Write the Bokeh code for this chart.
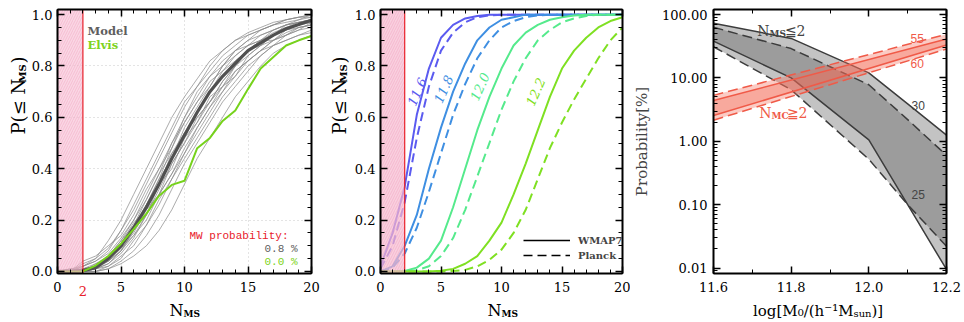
import math
from bokeh.plotting import figure
from bokeh.layouts import row, column
from bokeh.models import (Range1d, FixedTicker, PrintfTickFormatter, CustomJSTickFormatter,
                          LinearAxis, LogAxis, Label, Legend, LegendItem)
from bokeh.embed import file_html
from bokeh.resources import INLINE

FONT = "DejaVu Serif"
NAN = float("nan")

# ------------------------------------------------------------------ data
n_ms = list(range(21))
mw_n_ms = 2  # observed MW satellites (shaded region N <= 2)

model_cdf = [0, 0, 0.003, 0.015, 0.05, 0.10, 0.17, 0.25, 0.34, 0.44, 0.53, 0.62,
             0.70, 0.76, 0.81, 0.86, 0.89, 0.92, 0.945, 0.962, 0.978]
elvis_cdf = [0, 0, 0, 0.023, 0.06, 0.108, 0.165, 0.225, 0.295, 0.337, 0.353, 0.48,
             0.52, 0.586, 0.627, 0.71, 0.79, 0.835, 0.88, 0.90, 0.917]

model_realisations = [
    [0, 0, 0.02, 0.05, 0.12, 0.2, 0.3, 0.4, 0.5, 0.6, 0.68, 0.75, 0.82, 0.86, 0.9, 0.93, 0.95, 0.97, 0.98, 0.99, 1.0],
    [0, 0, 0, 0, 0.01, 0.03, 0.06, 0.1, 0.16, 0.24, 0.34, 0.44, 0.52, 0.6, 0.68, 0.74, 0.8, 0.85, 0.88, 0.9, 0.92],
    [0, 0, 0, 0.02, 0.06, 0.12, 0.2, 0.28, 0.38, 0.5, 0.58, 0.66, 0.74, 0.78, 0.84, 0.88, 0.9, 0.92, 0.94, 0.96, 0.97],
    [0, 0, 0, 0.01, 0.04, 0.08, 0.14, 0.2, 0.3, 0.38, 0.46, 0.56, 0.64, 0.72, 0.78, 0.82, 0.86, 0.9, 0.93, 0.95, 0.96],
    [0, 0.01, 0.02, 0.04, 0.08, 0.16, 0.24, 0.34, 0.44, 0.54, 0.64, 0.72, 0.78, 0.84, 0.88, 0.92, 0.94, 0.96, 0.97, 0.98, 0.99],
    [0, 0, 0, 0, 0.02, 0.06, 0.1, 0.18, 0.26, 0.36, 0.44, 0.52, 0.6, 0.68, 0.74, 0.8, 0.84, 0.88, 0.92, 0.94, 0.95],
    [0, 0, 0.01, 0.02, 0.06, 0.1, 0.18, 0.26, 0.36, 0.44, 0.56, 0.64, 0.72, 0.8, 0.84, 0.88, 0.9, 0.93, 0.95, 0.97, 0.98],
    [0, 0, 0, 0.03, 0.05, 0.11, 0.19, 0.24, 0.3, 0.42, 0.5, 0.58, 0.68, 0.72, 0.76, 0.84, 0.88, 0.9, 0.92, 0.94, 0.97],
    [0, 0, 0.04, 0.06, 0.1, 0.14, 0.22, 0.32, 0.4, 0.48, 0.6, 0.7, 0.76, 0.8, 0.86, 0.9, 0.94, 0.96, 0.98, 0.99, 0.99],
    [0, 0, 0, 0, 0.01, 0.04, 0.08, 0.14, 0.22, 0.32, 0.42, 0.5, 0.58, 0.66, 0.72, 0.78, 0.84, 0.88, 0.9, 0.92, 0.94],
    [0, 0, 0.01, 0.01, 0.03, 0.08, 0.16, 0.26, 0.34, 0.46, 0.54, 0.62, 0.7, 0.76, 0.82, 0.86, 0.88, 0.92, 0.96, 0.97, 0.98],
    [0, 0, 0.02, 0.04, 0.07, 0.13, 0.2, 0.3, 0.4, 0.5, 0.6, 0.68, 0.76, 0.82, 0.86, 0.9, 0.92, 0.94, 0.96, 0.98, 1.0],
    [0, 0, 0, 0.01, 0.03, 0.07, 0.13, 0.22, 0.3, 0.38, 0.48, 0.56, 0.64, 0.7, 0.78, 0.82, 0.86, 0.9, 0.94, 0.96, 0.97],
    [0, 0, 0.01, 0.03, 0.06, 0.12, 0.18, 0.28, 0.38, 0.46, 0.52, 0.62, 0.7, 0.78, 0.82, 0.86, 0.9, 0.94, 0.96, 0.97, 0.98],
    [0, 0, 0, 0.02, 0.04, 0.09, 0.15, 0.24, 0.34, 0.44, 0.54, 0.6, 0.66, 0.74, 0.8, 0.86, 0.9, 0.92, 0.94, 0.95, 0.96],
    [0, 0.01, 0.01, 0.02, 0.05, 0.1, 0.17, 0.26, 0.36, 0.48, 0.58, 0.66, 0.72, 0.8, 0.86, 0.88, 0.92, 0.94, 0.96, 0.97, 0.98],
    [0, 0, 0, 0.01, 0.02, 0.05, 0.12, 0.18, 0.28, 0.36, 0.46, 0.54, 0.62, 0.7, 0.76, 0.82, 0.86, 0.88, 0.9, 0.92, 0.93],
    [0, 0, 0.03, 0.05, 0.09, 0.16, 0.26, 0.36, 0.46, 0.56, 0.66, 0.72, 0.8, 0.86, 0.9, 0.92, 0.94, 0.96, 0.98, 0.99, 1.0],
    [0, 0, 0, 0.02, 0.05, 0.09, 0.14, 0.22, 0.32, 0.42, 0.5, 0.6, 0.66, 0.74, 0.8, 0.84, 0.88, 0.92, 0.95, 0.96, 0.98],
    [0, 0, 0.01, 0.02, 0.04, 0.08, 0.16, 0.22, 0.34, 0.4, 0.52, 0.58, 0.66, 0.72, 0.8, 0.86, 0.9, 0.9, 0.92, 0.95, 0.96],
]

# panel 2: cumulative distributions for four halo masses, WMAP7 (solid) / Planck (dashed)
mass_labels = ["11.6", "11.8", "12.0", "12.2"]
mass_colors = ["#5b5bf0", "#3f8fe2", "#55ea8c", "#7fe022"]
cdf_wmap7 = [
    [0.02, 0.15, 0.33, 0.61, 0.79, 0.91, 0.96, 0.985, 0.995, 1, 1, 1, 1, 1, 1, 1, 1, 1, 1, 1, 1],
    [0, 0.02, 0.10, 0.22, 0.40, 0.56, 0.70, 0.81, 0.90, 0.95, 0.98, 0.99, 1, 1, 1, 1, 1, 1, 1, 1, 1],
    [0, 0, 0.002, 0.015, 0.05, 0.12, 0.25, 0.40, 0.55, 0.68, 0.79, 0.88, 0.93, 0.96, 0.98, 0.99, 0.997, 1, 1, 1, 1],
    [0, 0, 0, 0, 0, 0.003, 0.01, 0.03, 0.06, 0.12, 0.19, 0.30, 0.42, 0.55, 0.68, 0.79, 0.86, 0.91, 0.95, 0.975, 0.99],
]
cdf_planck = [
    [0.01, 0.10, 0.27, 0.52, 0.72, 0.86, 0.93, 0.97, 0.99, 0.997, 1, 1, 1, 1, 1, 1, 1, 1, 1, 1, 1],
    [0, 0.015, 0.07, 0.17, 0.31, 0.46, 0.61, 0.73, 0.83, 0.90, 0.95, 0.975, 0.99, 0.997, 1, 1, 1, 1, 1, 1, 1],
    [0, 0, 0, 0.005, 0.02, 0.06, 0.13, 0.24, 0.37, 0.50, 0.63, 0.74, 0.83, 0.90, 0.94, 0.97, 0.985, 0.995, 1, 1, 1],
    [0, 0, 0, 0, 0, 0, 0.002, 0.006, 0.02, 0.045, 0.085, 0.15, 0.24, 0.36, 0.48, 0.58, 0.67, 0.75, 0.83, 0.90, 0.95],
]
label_pos_x = [3.0, 5.2, 8.2, 12.8]
label_pos_y = [0.70, 0.71, 0.72, 0.70]

# panel 3: probability [%] vs log halo mass
log_mass = [11.6, 11.8, 12.0, 12.1, 12.2]
nms_wmap7_30 = [73, 42, 12, 3.9, 1.25]
nms_planck_30 = [63, 29, 7.8, 2.2, 0.6]
nms_wmap7_25 = [38, 10, 1.05, 0.1, 0.0095]
nms_planck_25 = [31, 6.5, 0.52, 0.1, 0.022]

log_mass_mc = [11.6, 12.2]
nmc_wmap7_55 = [4.4, 41]
nmc_planck_55 = [5.3, 49]
nmc_wmap7_60 = [2.55, 33]
nmc_planck_60 = [2.15, 28.5]

# ticks
cdf_xticks = [0, 5, 10, 15, 20]
cdf_xminor = list(range(21))
cdf_yticks = [0.0, 0.2, 0.4, 0.6, 0.8, 1.0]
cdf_yminor = [i * 0.05 for i in range(21)]
mass_xticks = [11.6, 11.8, 12.0, 12.2]
mass_xminor = [11.6, 11.7, 11.8, 11.9, 12.0, 12.1, 12.2]
prob_yticks = [0.01, 0.1, 1, 10, 100]
prob_yminor = [k * 10.0 ** e for e in range(-3, 3) for k in range(1, 10)]

# ------------------------------------------------------------------ helpers
Y_CDF = (-0.008, 1.02)
Y_PROB = (0.0082, 120)
ROW_H = 298


def style_axis(ax, fmt=None, labels=True):
    ax.axis_line_width = 2
    ax.axis_line_color = "black"
    ax.major_tick_in = 7
    ax.major_tick_out = 0
    ax.minor_tick_in = 4
    ax.minor_tick_out = 0
    ax.major_tick_line_width = 1.5
    ax.minor_tick_line_width = 1
    ax.major_label_text_font = FONT
    ax.major_label_text_font_size = "13px"
    ax.major_label_text_color = "black"
    if fmt is not None:
        ax.formatter = fmt
    if not labels:
        ax.formatter = CustomJSTickFormatter(code="return ''")
        ax.major_label_text_font_size = "0px"
        ax.major_label_standoff = 0


def make_fig(width, left, right, xr, yr, xt, xm, yt, ym, xfmt, yfmt, ylog=False):
    p = figure(width=width, height=ROW_H, x_range=Range1d(*xr), y_range=Range1d(*yr),
               y_axis_type="log" if ylog else "linear",
               min_border_left=left, min_border_right=right, min_border_top=9,
               min_border_bottom=25, output_backend="svg", toolbar_location=None, tools="")
    p.outline_line_color = "black"
    p.outline_line_width = 1
    p.background_fill_color = "white"
    p.border_fill_color = "white"
    p.xaxis.ticker = FixedTicker(ticks=xt, minor_ticks=xm)
    p.yaxis.ticker = FixedTicker(ticks=yt, minor_ticks=ym)
    style_axis(p.xaxis[0], PrintfTickFormatter(format=xfmt))
    style_axis(p.yaxis[0], PrintfTickFormatter(format=yfmt))
    p.xaxis.major_label_standoff = 8
    p.yaxis.major_label_standoff = 5
    top = LinearAxis(ticker=FixedTicker(ticks=xt, minor_ticks=xm))
    style_axis(top, labels=False)
    p.add_layout(top, "above")
    right_ax = (LogAxis if ylog else LinearAxis)(ticker=FixedTicker(ticks=yt, minor_ticks=ym))
    style_axis(right_ax, labels=False)
    p.add_layout(right_ax, "right")
    p.xgrid.grid_line_color = None
    p.ygrid.grid_line_color = None
    return p


def strip(width, height):
    f = figure(width=width, height=height, x_range=Range1d(0, width), y_range=Range1d(0, height),
               min_border=0, x_axis_type=None, y_axis_type=None, output_backend="svg",
               toolbar_location=None, tools="")
    f.outline_line_color = None
    f.background_fill_color = "white"
    f.border_fill_color = "white"
    return f


def lab(p, text, x, y, xu="screen", yu="screen", size="13px", color="black", font=FONT,
        style="normal", align="left", baseline="alphabetic", angle=0.0):
    p.add_layout(Label(x=x, y=y, x_units=xu, y_units=yu, text=text, text_font=font,
                       text_font_size=size, text_color=color, text_font_style=style,
                       text_align=align, text_baseline=baseline, angle=angle))


def y_label_nms(f, bx):
    # rotated "P(<= N_MS)", reading upwards, glyphs hanging to the right of bx
    lab(f, "P(\u2264 N", bx, ROW_H - 159, size="18px", baseline="top", angle=math.pi / 2)
    lab(f, "MS", bx + 9, ROW_H - 107, size="10px", style="bold", baseline="top",
        angle=math.pi / 2)
    lab(f, ")", bx, ROW_H - 88, size="18px", baseline="top", angle=math.pi / 2)


def pink_region(p, alpha):
    p.quad(left=[0], right=[mw_n_ms], bottom=[Y_CDF[0]], top=[Y_CDF[1]],
           fill_color="#f7bcd2", fill_alpha=alpha, line_color=None,
           hatch_pattern="/", hatch_color="#ee7aa4", hatch_alpha=0.4, hatch_scale=5,
           hatch_weight=0.7)
    p.segment(x0=[mw_n_ms], x1=[mw_n_ms], y0=[Y_CDF[0]], y1=[Y_CDF[1]],
              line_color="#e8202a", line_width=1.2)


# ------------------------------------------------------------------ panel 1
p1 = make_fig(293, 27, 10, (0, 20), Y_CDF, cdf_xticks, cdf_xminor, cdf_yticks, cdf_yminor,
              "%d", "%.1f")
p1.xgrid.grid_line_color = "#c8c8c8"
p1.ygrid.grid_line_color = "#c8c8c8"
p1.xgrid.grid_line_dash = "1 3"
p1.ygrid.grid_line_dash = "1 3"
p1.xgrid.ticker = FixedTicker(ticks=[5, 10, 15])
p1.ygrid.ticker = FixedTicker(ticks=[0.2, 0.4, 0.6, 0.8])

p1.multi_line(xs=[n_ms] * len(model_realisations), ys=model_realisations,
              line_color="#8a8a8a", line_width=0.8, line_alpha=0.9)
p1.line(n_ms, model_cdf, line_color="#505050", line_width=3.2)
p1.line(n_ms, elvis_cdf, line_color="#76d21c", line_width=2)
pink_region(p1, 0.6)

# red tick label at the observed value, drawn by an extra axis
red_ax = LinearAxis(ticker=FixedTicker(ticks=[mw_n_ms], minor_ticks=[]),
                    formatter=PrintfTickFormatter(format="%d"))
red_ax.axis_line_color = None
red_ax.major_tick_line_color = None
red_ax.minor_tick_line_color = None
red_ax.major_label_text_font = FONT
red_ax.major_label_text_font_size = "13px"
red_ax.major_label_text_color = "#e8202a"
red_ax.major_label_standoff = -15
p1.add_layout(red_ax, "below")

lab(p1, "Model", 30, 243, size="11.5px", style="bold", color="#5e5e5e")
lab(p1, "Elvis", 30, 229, size="11.5px", style="bold", color="#7ed321")
lab(p1, "MW probability:", 132, 38, size="11px", font="Liberation Mono", color="#e8202a")
lab(p1, "0.8 %", 240, 25, size="11px", font="Liberation Mono", color="#5e5e5e", align="right")
lab(p1, "0.0 %", 240, 12, size="11px", font="Liberation Mono", color="#7ed321", align="right")

# ------------------------------------------------------------------ panel 2
p2 = make_fig(280, 30, 8, (0, 20), Y_CDF, cdf_xticks, cdf_xminor, cdf_yticks, cdf_yminor,
              "%d", "%.1f")
for i in range(len(mass_labels)):
    p2.line(n_ms, cdf_wmap7[i], line_color=mass_colors[i], line_width=2)
    p2.line(n_ms, cdf_planck[i], line_color=mass_colors[i], line_width=2, line_dash="9 5")
    lab(p2, mass_labels[i], label_pos_x[i], label_pos_y[i], xu="data", yu="data",
        size="13px", style="italic", color=mass_colors[i], align="center",
        baseline="middle", angle=1.15)
pink_region(p2, 0.7)

r_solid = p2.line([NAN], [NAN], line_color="black", line_width=1.5)
r_dash = p2.line([NAN], [NAN], line_color="black", line_width=1.5, line_dash="9 5")
legend = Legend(items=[LegendItem(label="WMAP7", renderers=[r_solid]),
                       LegendItem(label="Planck", renderers=[r_dash])],
                location=(143, 11), glyph_width=47, glyph_height=14, label_height=14,
                label_standoff=8, spacing=1, padding=0, margin=0,
                label_text_font=FONT, label_text_font_style="bold",
                label_text_font_size="10px", background_fill_alpha=0, border_line_alpha=0)
p2.add_layout(legend)

# ------------------------------------------------------------------ panel 3
p3 = make_fig(334, 78, 18, (11.6, 12.2), Y_PROB, mass_xticks, mass_xminor, prob_yticks,
              prob_yminor, "%.1f", "%.2f", ylog=True)
p3.yaxis[0].major_label_standoff = 6
p3.yaxis[0].axis_label = "Probability[%]"
p3.yaxis[0].axis_label_text_font = FONT
p3.yaxis[0].axis_label_text_font_size = "15px"
p3.yaxis[0].axis_label_text_font_style = "normal"
p3.yaxis[0].axis_label_standoff = 8

p3.varea(x=log_mass, y1=nms_wmap7_25, y2=nms_wmap7_30, fill_color="#5a5a5a", fill_alpha=0.36)
p3.varea(x=log_mass, y1=nms_planck_25, y2=nms_planck_30, fill_color="#5a5a5a", fill_alpha=0.36)
for ys in (nms_wmap7_30, nms_wmap7_25):
    p3.line(log_mass, ys, line_color="#3c3c3c", line_width=1.5)
for ys in (nms_planck_30, nms_planck_25):
    p3.line(log_mass, ys, line_color="#3c3c3c", line_width=1.5, line_dash="10 5")

p3.varea(x=log_mass_mc, y1=nmc_wmap7_60, y2=nmc_wmap7_55, fill_color="#f46a55", fill_alpha=0.35)
p3.varea(x=log_mass_mc, y1=nmc_planck_60, y2=nmc_planck_55, fill_color="#f46a55", fill_alpha=0.35)
for ys in (nmc_wmap7_55, nmc_wmap7_60):
    p3.line(log_mass_mc, ys, line_color="#f05a48", line_width=1.5)
for ys in (nmc_planck_55, nmc_planck_60):
    p3.line(log_mass_mc, ys, line_color="#f05a48", line_width=1.5, line_dash="10 5")

lab(p3, "N", 56, 243, size="14px", color="#444444", align="right")
lab(p3, "MS", 56, 240, size="9px", style="bold", color="#444444")
lab(p3, "\u22662", 71, 243, size="14px", color="#444444")
lab(p3, "N", 58, 161, size="14px", color="#f05a48", align="right")
lab(p3, "MC", 58, 158, size="9px", style="bold", color="#f05a48")
lab(p3, "\u22672", 73, 161, size="14px", color="#f05a48")
lab(p3, "55", 197, 235, size="12px", font="Liberation Sans", color="#f05a48")
lab(p3, "60", 197, 210, size="12px", font="Liberation Sans", color="#f05a48")
lab(p3, "30", 198, 168, size="12px", font="Liberation Sans", color="#444444")
lab(p3, "25", 198, 79, size="12px", font="Liberation Sans", color="#444444")

# ------------------------------------------------------------------ axis-label strips
yl1 = strip(28, ROW_H)
y_label_nms(yl1, 7)
yl2 = strip(29, ROW_H)
y_label_nms(yl2, 7)

XL_H = 24
xl = strip(964, XL_H)
for split in (183, 501):
    lab(xl, "N", split, XL_H - 12, size="16px", align="right")
    lab(xl, "MS", split, XL_H - 15, size="9px", style="bold")
lab(xl, "log[M\u2080/(h\u207b\u00b9M", 853, XL_H - 12, size="15px", align="right")
lab(xl, "sun", 853, XL_H - 15, size="10px")
lab(xl, ")]", 871, XL_H - 12, size="15px")

layout = column(row(yl1, p1, yl2, p2, p3), xl)
open("out.html", "w").write(file_html(layout, INLINE))
